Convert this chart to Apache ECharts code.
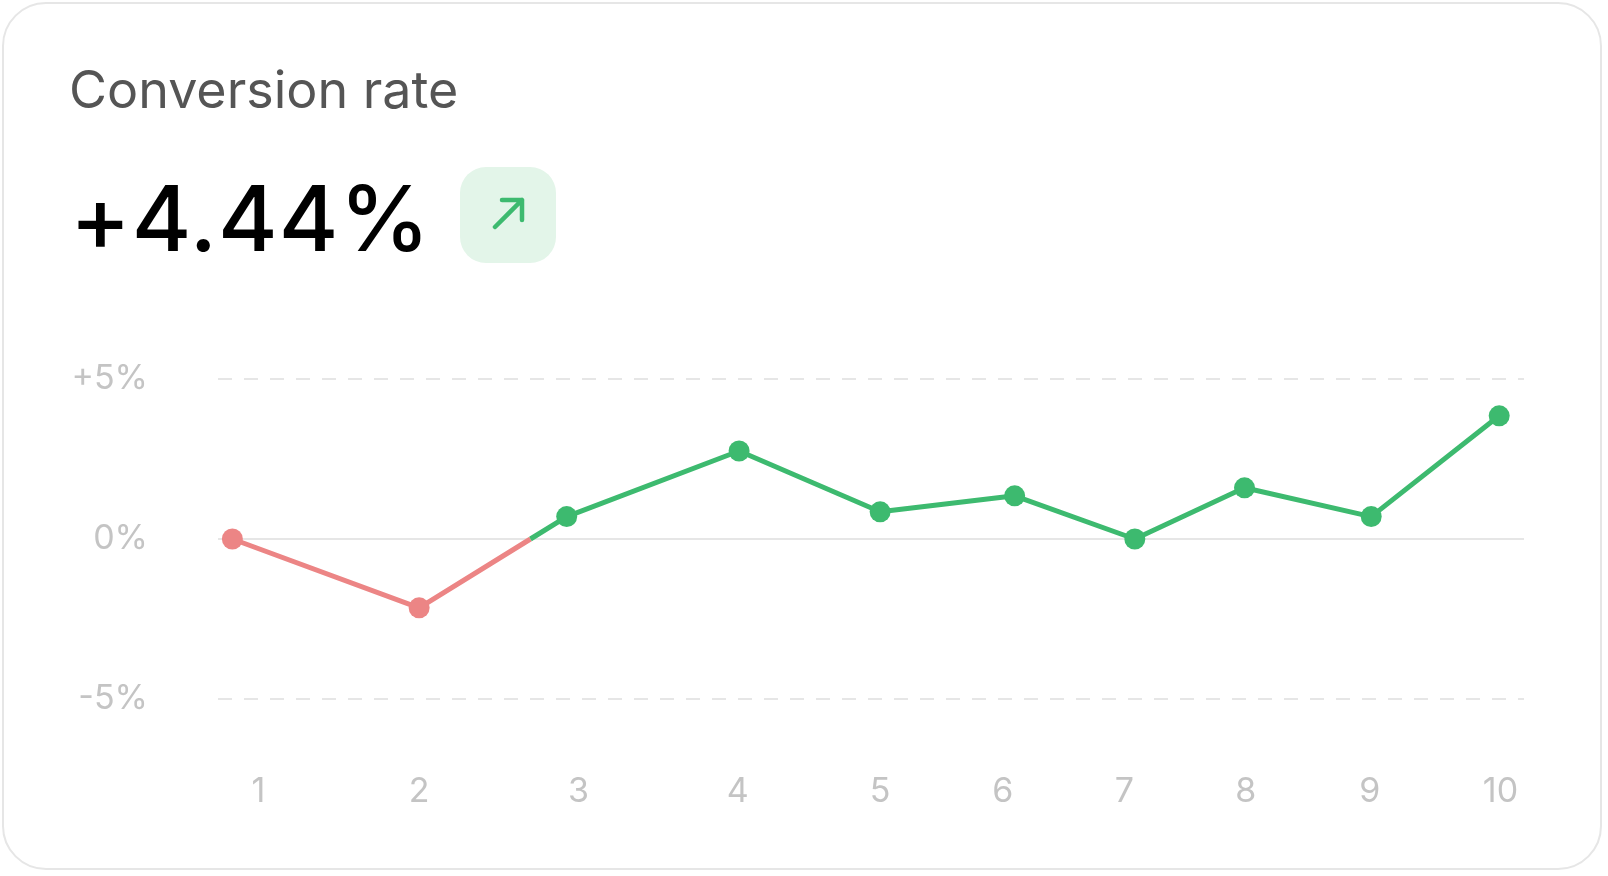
<!DOCTYPE html>
<html><head><meta charset="utf-8">
<script src="https://cdn.jsdelivr.net/npm/echarts@6/dist/echarts.min.js"></script>
<style>
html,body{margin:0;padding:0;background:#fff;width:1608px;height:876px;overflow:hidden;font-family:Inter,"Noto Sans",sans-serif}
#card{position:absolute;left:2px;top:2px;width:1600px;height:868px;border:2px solid #e6e6e6;border-radius:44px;box-sizing:border-box}
#title{position:absolute;left:69px;top:60px;font-size:52px;color:#555;line-height:1.15}
#value{position:absolute;left:70px;top:166px;font-size:91px;color:#000;font-weight:500;letter-spacing:1px;line-height:1.15}
#badge{position:absolute;left:460px;top:167px;width:96px;height:96px;border-radius:26px;background:#e3f5e9}
#chart{position:absolute;left:0;top:0;width:1608px;height:876px}
</style></head><body>
<div id="card"></div>
<div id="title">Conversion rate</div>
<div id="value">+4.44%</div>
<div id="badge"><svg width="96" height="96"><path d="M35 60 L62 33 M42 33 L62 33 L62 53" stroke="#3dba6f" stroke-width="4.5" fill="none" stroke-linecap="round" stroke-linejoin="round"/></svg></div>
<div id="chart"></div>
<script>
const pointX = [0.11, 1.54, 2.67, 3.99, 5.07, 6.10, 7.02, 7.86, 8.83, 9.81];
const values = [0, -2.15, 0.7, 2.75, 0.85, 1.35, 0, 1.6, 0.7, 3.85];
const labelX = [0.31, 1.54, 2.76, 3.98, 5.07, 6.01, 6.94, 7.87, 8.82, 9.82];
const labelText = ['1','2','3','4','5','6','7','8','9','10'];
const yTicks = {'5':'+5%','0':'0%','-5':'-5%'};
const RED='#ec8585', GREEN='#3dba6f';
// crossing of zero between point 2 and 3
const t = (0 - values[1]) / (values[2] - values[1]);
const cx = pointX[1] + t * (pointX[2] - pointX[1]);
const redData = [[pointX[0],values[0]],[pointX[1],values[1]],{value:[cx,0],symbol:'none'}];
const greenData = [{value:[cx,0],symbol:'none'}].concat(pointX.slice(2).map((x,i)=>[x,values[i+2]]));
const chart = echarts.init(document.getElementById('chart'));
chart.setOption({
  animation:false,
  grid:{left:218,right:84,top:379,bottom:177},
  xAxis:{type:'value',min:0,max:10,
    axisLine:{show:false},axisTick:{show:false},splitLine:{show:false},
    axisLabel:{customValues:labelX,margin:76,fontSize:34,color:'#c4c4c4',fontFamily:'Inter',
      formatter:v=>{const i=labelX.findIndex(x=>Math.abs(x-v)<1e-6);return i>=0?labelText[i]:'';}}},
  yAxis:{type:'value',min:-5,max:5,interval:5,
    axisLine:{show:false},axisTick:{show:false},
    splitLine:{lineStyle:{color:'#e6e6e6',width:2,type:[14,12]}},
    axisLabel:{margin:70,fontSize:34,color:'#c4c4c4',fontFamily:'Inter',formatter:v=>yTicks[String(v)]}},
  series:[
    {type:'line',data:[[0,0],[10,0]],symbol:'none',silent:true,z:1,lineStyle:{color:'#e6e6e6',width:2}},
    {type:'line',data:redData,symbol:'circle',symbolSize:21,z:3,itemStyle:{color:RED},lineStyle:{color:RED,width:5}},
    {type:'line',data:greenData,symbol:'circle',symbolSize:21,z:3,itemStyle:{color:GREEN},lineStyle:{color:GREEN,width:5}}
  ]
});
</script>
</body></html>
